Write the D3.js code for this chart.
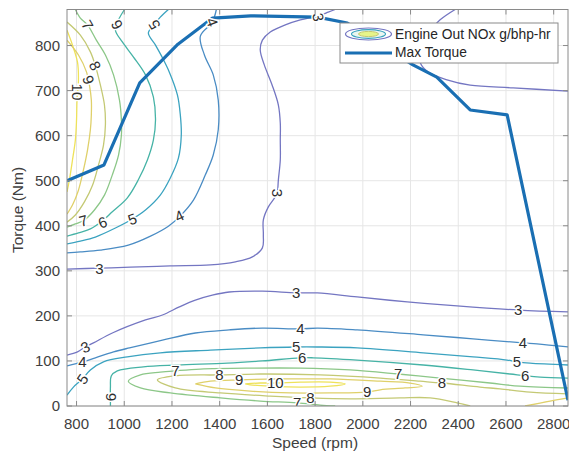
<!DOCTYPE html>
<html>
<head>
<meta charset="utf-8">
<script src="https://cdn.jsdelivr.net/npm/d3@7"></script>
<style>
  body { margin: 0; background: #fff; }
  text { font-family: Arial, "Liberation Sans", sans-serif; }
</style>
</head>
<body>
<div id="chart"></div>
<script>
// axis ticks
const speedTicks = [800, 1000, 1200, 1400, 1600, 1800, 2000, 2200, 2400, 2600, 2800];
const torqueTicks = [0, 100, 200, 300, 400, 500, 600, 700, 800];

// NOx contour levels (g/bhp-hr)
const levels = [3, 4, 5, 6, 7, 8, 9, 10];
const levelColors = ['#7476c2', '#4a8cc4', '#3ba3c0', '#46b3a6', '#8cc788', '#c4c974', '#dfd06a', '#eee25a'];

// max torque curve [speed rpm, torque Nm]
const maxTorque = [[760,500],[915,535],[1065,717],[1225,803],[1370,861],[1530,866],[1810,863],
  [1935,850],[2210,757],[2310,730],[2450,657],[2605,646],[2860,13]];

// contour lines, [speed, torque]
const nox10a = [[760,834],[783,801],[804,763],[808,724],[802,679],[800,635],[795,590],[783,546],[770,502],[760,475]];
const nox9a = [[760,812],[808,779],[842,741],[854,712],[862,679],[862,646],[858,613],[846,568],[829,524],[808,479],[783,446],[760,426]];
const nox8a = [[760,852],[816,823],[858,786],[879,755],[900,712],[917,668],[921,624],[913,579],[892,535],[867,490],[833,453],[795,424],[760,408]];
const nox7a = [[795,880],[816,861],[846,846],[883,812],[921,779],[955,735],[980,679],[988,635],[988,601],[976,557],[950,513],
  [917,468],[875,435],[833,413],[795,404],[760,397]];
const nox6a = [[1001,880],[976,857],[963,834],[992,808],[1038,775],[1089,735],[1122,686],[1131,635],[1122,590],[1097,546],
  [1059,502],[1013,462],[950,431],[909,411],[858,393],[808,384],[760,377]];
const nox5a = [[1185,880],[1151,863],[1126,846],[1101,828],[1131,801],[1156,777],[1189,741],[1223,690],[1235,646],[1239,601],
  [1227,550],[1193,506],[1151,468],[1089,435],[1034,415],[963,395],[879,375],[816,366],[760,360]];
const nox4a = [[1386,880],[1369,852],[1319,821],[1336,779],[1373,735],[1394,679],[1394,613],[1373,557],[1340,513],[1290,457],
  [1235,422],[1185,399],[1110,377],[1017,357],[900,346],[816,342],[760,340]];
const nox3a = [[760,304],[896,306],[1026,308],[1193,311],[1361,313],[1466,320],[1537,331],[1579,351],[1583,380],[1583,413],
  [1604,442],[1633,464],[1641,473],[1646,502],[1654,546],[1654,590],[1654,628],[1646,668],[1620,712],[1587,757],[1570,790],
  [1579,812],[1612,830],[1675,846],[1738,857],[1813,866],[1855,874],[1884,880]];
const nox3b = [[2387,880],[2324,857],[2274,828],[2240,795],[2240,763],[2274,741],[2353,724],[2450,712],[2630,706],[2860,699]];
const nox3c = [[760,113],[804,120],[837,131],[871,140],[950,162],[1089,191],[1160,202],[1231,220],[1298,235],[1369,246],
  [1440,253],[1579,255],[1721,251],[1809,251],[1976,242],[2186,231],[2395,222],[2651,213],[2860,209]];
const nox4b = [[760,89],[825,98],[879,107],[955,120],[1022,129],[1160,146],[1298,162],[1440,169],[1579,173],[1738,171],
  [1809,173],[1976,169],[2253,158],[2462,149],[2671,140],[2730,138],[2860,131]];
const nox5b = [[760,24],[787,42],[825,60],[858,80],[913,98],[1013,109],[1151,118],[1361,124],[1570,129],[1721,131],
  [1809,131],[1976,129],[2253,118],[2462,109],[2604,102],[2646,98],[2701,95],[2860,91]];
const nox6b = [[942,0],[942,20],[942,42],[946,67],[971,78],[1080,87],[1223,91],[1432,95],[1579,100],[1738,107],[1792,107],
  [1976,102],[2253,91],[2462,80],[2617,71],[2680,67],[2743,64],[2860,62]];
const nox7b = [[1884,0],[1821,2],[1725,7],[1570,11],[1403,18],[1193,29],[1068,40],[1017,55],[1068,69],[1151,75],[1214,78],
  [1319,82],[1528,84],[1738,84],[1947,80],[2148,71],[2324,62],[2533,51],[2659,44],[2860,40]];
const nox8b = [[2450,0],[2395,7],[2282,18],[2156,18],[1947,16],[1780,18],[1612,22],[1403,29],[1214,40],[1139,58],[1214,67],
  [1399,69],[1570,71],[1821,69],[2073,62],[2240,55],[2332,51],[2491,42],[2575,38],[2701,31],[2860,27]];
const nox9b = [[1298,49],[1361,55],[1482,58],[1654,60],[1863,60],[2073,55],[2198,51],[2249,44],[2177,40],[2073,36],[2018,31],
  [1863,29],[1696,29],[1528,33],[1382,40],[1298,49]];
const nox9c = [[2680,0],[2785,11],[2860,18]];
const nox10b = [[1507,49],[1570,51],[1633,51],[1738,53],[1863,53],[1926,49],[1863,44],[1738,42],[1612,44],[1528,47],[1507,49]];

const contourLines = [
  [10, nox10a], [9, nox9a], [8, nox8a], [7, nox7a], [6, nox6a], [5, nox5a], [4, nox4a],
  [3, nox3a], [3, nox3b], [3, nox3c], [4, nox4b], [5, nox5b], [6, nox6b], [7, nox7b],
  [8, nox8b], [9, nox9b], [9, nox9c], [10, nox10b]
];

// inline contour labels [level, speed, torque] and their tilt
const labelSpots = [
  [10,805,697],[9,850,724],[8,878,755],[7,846,846],[6,968,846],[5,1126,846],[4,1369,852],
  [7,829,411],[6,909,408],[5,1034,415],[4,1231,422],
  [3,896,306],[3,1641,473],[3,1813,863],
  [3,837,131],[4,825,98],[5,825,60],[6,942,20],
  [3,1721,251],[3,2651,213],[4,1738,171],[4,2671,140],[5,1721,131],[5,2646,98],
  [6,1746,107],[6,2680,67],[7,1214,78],[7,2148,71],[7,1725,7],
  [8,1399,69],[8,2332,51],[8,1780,18],[9,1482,58],[9,2018,31],[10,1633,51]
];
const labelTilt = [90,70,65,60,240,240,70, -15,-20,-20,-25, 0,90,80, -25,0,-55,-90,
  0,0,0,0,0,0, 0,0,0,0,0, 0,0,0,0,0,0];

const W = 569, H = 454;
const x = d3.scaleLinear().domain([760, 2860]).range([67, 568]);
const y = d3.scaleLinear().domain([0, 880]).range([406, 9.5]);
const colorOf = d3.scaleOrdinal().domain(levels).range(levelColors);

const svg = d3.select('#chart').append('svg')
  .attr('width', W).attr('height', H);

svg.append('defs').append('clipPath').attr('id', 'plotclip')
  .append('rect')
  .attr('x', x.range()[0]).attr('y', y.range()[1])
  .attr('width', x.range()[1] - x.range()[0])
  .attr('height', y.range()[0] - y.range()[1]);

// grid
const grid = svg.append('g');
grid.selectAll('.gx').data(speedTicks).join('line')
  .attr('x1', d => x(d)).attr('x2', d => x(d))
  .attr('y1', y.range()[0]).attr('y2', y.range()[1])
  .attr('stroke', '#e6e6e6');
grid.selectAll('.gy').data(torqueTicks).join('line')
  .attr('x1', x.range()[0]).attr('x2', x.range()[1])
  .attr('y1', d => y(d)).attr('y2', d => y(d))
  .attr('stroke', '#e6e6e6');

const plot = svg.append('g').attr('clip-path', 'url(#plotclip)');

const line = d3.line()
  .x(d => x(d[0])).y(d => y(d[1]))
  .curve(d3.curveCatmullRom.alpha(0.5));

plot.selectAll('.contour').data(contourLines).join('path')
  .attr('class', 'contour')
  .attr('d', d => line(d[1]))
  .attr('fill', 'none')
  .attr('stroke', d => colorOf(d[0]))
  .attr('stroke-width', 1.3);

// max torque
plot.append('path')
  .attr('d', d3.line().x(d => x(d[0])).y(d => y(d[1]))(maxTorque))
  .attr('fill', 'none')
  .attr('stroke', '#1a6fb3')
  .attr('stroke-width', 3.2)
  .attr('stroke-linejoin', 'round');

// contour labels
plot.selectAll('.clab').data(labelSpots).join('text')
  .attr('class', 'clab')
  .attr('transform', (d, i) => `translate(${x(d[1])},${y(d[2])}) rotate(${labelTilt[i]})`)
  .attr('text-anchor', 'middle')
  .attr('dy', '0.36em')
  .attr('font-size', 15)
  .attr('fill', '#2e2e2e')
  .attr('stroke', '#fff')
  .attr('stroke-width', 3)
  .attr('paint-order', 'stroke')
  .text(d => d[0]);

// box + inward ticks
const box = svg.append('g');
box.append('rect')
  .attr('x', x.range()[0]).attr('y', y.range()[1])
  .attr('width', x.range()[1] - x.range()[0])
  .attr('height', y.range()[0] - y.range()[1])
  .attr('fill', 'none').attr('stroke', '#8a8a8a');

const tl = 5;
box.selectAll('.tb').data(speedTicks).join('path')
  .attr('d', d => `M${x(d)},${y.range()[0]}v${-tl}M${x(d)},${y.range()[1]}v${tl}`)
  .attr('stroke', '#8a8a8a');
box.selectAll('.tl').data(torqueTicks).join('path')
  .attr('d', d => `M${x.range()[0]},${y(d)}h${tl}M${x.range()[1]},${y(d)}h${-tl}`)
  .attr('stroke', '#8a8a8a');

box.selectAll('.xl').data(speedTicks).join('text')
  .attr('x', d => x(d)).attr('y', 429)
  .attr('text-anchor', 'middle')
  .attr('font-size', 15).attr('fill', '#404040')
  .text(d => d);
box.selectAll('.yl').data(torqueTicks).join('text')
  .attr('x', 60).attr('y', d => y(d))
  .attr('dy', '0.36em')
  .attr('text-anchor', 'end')
  .attr('font-size', 15).attr('fill', '#404040')
  .text(d => d);

svg.append('text')
  .attr('x', 315).attr('y', 448)
  .attr('text-anchor', 'middle')
  .attr('font-size', 15.5).attr('fill', '#404040')
  .text('Speed (rpm)');
svg.append('text')
  .attr('transform', 'translate(23,210) rotate(-90)')
  .attr('text-anchor', 'middle')
  .attr('font-size', 15.5).attr('fill', '#404040')
  .text('Torque (Nm)');

// legend
const lg = svg.append('g');
lg.append('rect')
  .attr('x', 340).attr('y', 23).attr('width', 218).attr('height', 40)
  .attr('fill', '#fff').attr('stroke', '#8a8a8a');
lg.append('ellipse').attr('cx', 368.5).attr('cy', 34).attr('rx', 23).attr('ry', 6)
  .attr('fill', '#fff').attr('stroke', colorOf(3)).attr('stroke-width', 1.2);
lg.append('ellipse').attr('cx', 368.5).attr('cy', 34).attr('rx', 17).attr('ry', 4.3)
  .attr('fill', '#eaf6f0').attr('stroke', colorOf(5)).attr('stroke-width', 1.2);
lg.append('ellipse').attr('cx', 368.5).attr('cy', 34).attr('rx', 10).attr('ry', 2.6)
  .attr('fill', '#e6f58a').attr('stroke', colorOf(8)).attr('stroke-width', 1);
lg.append('text').attr('x', 395).attr('y', 39)
  .attr('font-size', 13.8).attr('fill', '#262626')
  .text('Engine Out NOx g/bhp-hr');
lg.append('line').attr('x1', 345).attr('x2', 392).attr('y1', 53).attr('y2', 53)
  .attr('stroke', '#1a6fb3').attr('stroke-width', 3);
lg.append('text').attr('x', 395).attr('y', 57)
  .attr('font-size', 13.8).attr('fill', '#262626')
  .text('Max Torque');
</script>
</body>
</html>
